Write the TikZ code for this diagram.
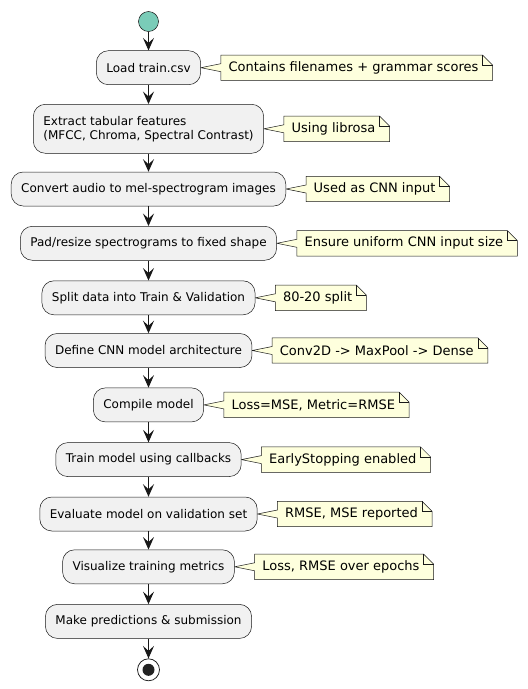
\documentclass[tikz,border=0pt]{standalone}
\usepackage{fontspec}
\setmainfont{DejaVu Sans}
\usetikzlibrary{arrows.meta,backgrounds}
\definecolor{actfill}{HTML}{F1F1F1}
\definecolor{actline}{HTML}{181818}
\definecolor{notefill}{HTML}{FEFFDD}
\definecolor{startfill}{HTML}{7ACCB8}
\definecolor{endfill}{HTML}{222222}
\tikzset{
  act/.style={draw=actline, line width=0.5pt, fill=actfill, rounded corners=12pt,
    minimum height=34pt, inner xsep=10pt, inner ysep=0pt,
    font=\fontsize{12}{14}\selectfont, align=left},
  notetext/.style={inner sep=0pt, minimum height=25pt, anchor=west,
    font=\fontsize{13}{15}\selectfont},
  noteline/.style={draw=actline, line width=0.5pt},
  flow/.style={draw=actline, line width=1pt,
    -{Stealth[length=12.5pt,width=11pt,inset=5pt]}},
}
\newcommand\mynote[2]{%
  \begin{scope}[on background layer]
    \filldraw[noteline, fill=notefill]
      ([xshift=-7.5pt]#1.north west) -- ([xshift=4pt]#1.north east)
      -- ([xshift=14pt,yshift=-10pt]#1.north east) -- ([xshift=14pt]#1.south east)
      -- ([xshift=-7.5pt]#1.south west) -- ([xshift=-7.5pt,yshift=-4pt]#1.west)
      -- (#2.east) -- ([xshift=-7.5pt,yshift=4pt]#1.west) -- cycle;
    \draw[noteline] ([xshift=4pt]#1.north east) -- ([xshift=4pt,yshift=-10pt]#1.north east)
      -- ([xshift=14pt,yshift=-10pt]#1.north east);
  \end{scope}}
\begin{document}
\begin{tikzpicture}[x=1pt,y=-1pt]
\useasboundingbox (0,0) rectangle (528,689);
\begin{scope}[on background layer]
  \fill[white] (0,0) rectangle (528,689);
\end{scope}
\node[circle, draw=actline, line width=0.5pt, fill=startfill, minimum size=20pt, inner sep=0pt] (start) at (148.5,21.5) {};
\node[act] (a1) at (148.5,67.7) {Load train.csv};
\node[act, minimum height=49pt] (a2) at (148.5,128.8) {Extract tabular features\\(MFCC, Chroma, Spectral Contrast)};
\node[act] (a3) at (148.5,189) {Convert audio to mel-spectrogram images};
\node[act] (a4) at (148.5,243.3) {Pad/resize spectrograms to fixed shape};
\node[act] (a5) at (148.5,297.8) {Split data into Train \& Validation};
\node[act] (a6) at (148.5,350.5) {Define CNN model architecture};
\node[act] (a7) at (148.5,404.9) {Compile model};
\node[act] (a8) at (148.5,459.6) {Train model using callbacks};
\node[act] (a9) at (148.5,514) {Evaluate model on validation set};
\node[act] (a10) at (148.5,566.8) {Visualize training metrics};
\node[act] (a11) at (148.5,621.4) {Make predictions \& submission};
\node[circle, draw=actline, line width=0.75pt, fill=white, minimum size=22pt, inner sep=0pt] (stop) at (148.5,669.8) {};
\node[circle, fill=endfill, minimum size=12pt, inner sep=0pt] (stopdot) at (stop.center) {};
% notes
\node[notetext] (n1) at ([xshift=27.5pt]a1.east) {Contains filenames + grammar scores};
\node[notetext] (n2) at ([xshift=27.5pt]a2.east) {Using librosa};
\node[notetext] (n3) at ([xshift=27.5pt]a3.east) {Used as CNN input};
\node[notetext] (n4) at ([xshift=27.5pt]a4.east) {Ensure uniform CNN input size};
\node[notetext] (n5) at ([xshift=27.5pt]a5.east) {80-20 split};
\node[notetext] (n6) at ([xshift=27.5pt]a6.east) {Conv2D -> MaxPool -> Dense};
\node[notetext] (n7) at ([xshift=27.5pt]a7.east) {Loss=MSE, Metric=RMSE};
\node[notetext] (n8) at ([xshift=27.5pt]a8.east) {EarlyStopping enabled};
\node[notetext] (n9) at ([xshift=27.5pt]a9.east) {RMSE, MSE reported};
\node[notetext] (n10) at ([xshift=27.5pt]a10.east) {Loss, RMSE over epochs};
\mynote{n1}{a1}
\mynote{n2}{a2}
\mynote{n3}{a3}
\mynote{n4}{a4}
\mynote{n5}{a5}
\mynote{n6}{a6}
\mynote{n7}{a7}
\mynote{n8}{a8}
\mynote{n9}{a9}
\mynote{n10}{a10}
% flow
\draw[flow] (start) -- (a1);
\draw[flow] (a1) -- (a2);
\draw[flow] (a2) -- (a3);
\draw[flow] (a3) -- (a4);
\draw[flow] (a4) -- (a5);
\draw[flow] (a5) -- (a6);
\draw[flow] (a6) -- (a7);
\draw[flow] (a7) -- (a8);
\draw[flow] (a8) -- (a9);
\draw[flow] (a9) -- (a10);
\draw[flow] (a10) -- (a11);
\draw[flow] (a11) -- (stop);
\end{tikzpicture}
\end{document}
